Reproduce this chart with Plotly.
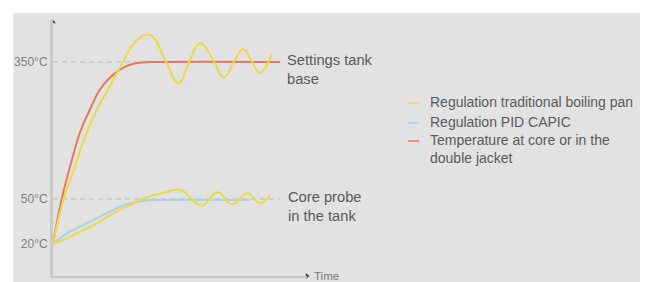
import plotly.graph_objects as go

# Schematic chart: x = time (arbitrary units), y = schematic temperature level
# (tick positions carry the °C labels)
tick_levels = [32, 77, 214]
tick_labels = ["20°C", "50°C", "350°C"]

# Upper curves (tank base)
red_x = [0, 9, 19, 27, 37, 47, 57, 67, 77, 89, 110, 229]
red_y = [32, 78, 116, 143, 166, 186, 198, 206, 211, 213.5, 214, 214]

yel_up_x = [0, 11, 21, 31, 44, 57, 70.7, 82, 97.3, 114, 126.3, 137.3, 148.3,
            162.3, 172.3, 182.3, 191.7, 200.7, 208.3, 220.7]
yel_up_y = [32, 78, 106, 136, 166, 189, 214.3, 233, 241, 214.3, 192.7, 214.3,
            232.7, 214.3, 198.7, 214.3, 226.7, 214.3, 203.3, 222.7]

# Lower curves (core probe)
yel_lo_x = [0, 14, 27.3, 44, 60.7, 77.3, 90, 109, 129, 142.3, 150.7, 165.7,
            180.7, 195.7, 209, 219]
yel_lo_y = [32, 37.7, 44.3, 52.7, 62.7, 71, 77, 82.7, 86, 74.3, 70.3, 83.7,
            71.7, 82.7, 72.7, 81]

blue_lo_x = [0, 14, 27.3, 44, 60.7, 77.3, 90, 110, 199]
blue_lo_y = [32, 42.7, 49.3, 57.7, 66, 72.7, 75, 76, 76]

setpoint_end = 229

legend_names = ["Regulation traditional boiling pan", "Regulation PID CAPIC",
                "Temperature at core or in the<br>double jacket"]

YEL = "#ecd94a"
BLUE = "#a9d2e2"
RED = "#e8775c"
BG = "#e1e2e1"
TXT = "#5a5a5a"
FONT = "Liberation Sans, Arial, sans-serif"
FS = 14.7
FS_LEG = 14

fig = go.Figure()

# dashed setpoint lines
for lv in [tick_levels[1], tick_levels[2]]:
    fig.add_shape(type="line", xref="x", yref="y", x0=0, x1=setpoint_end,
                  y0=lv, y1=lv, line=dict(color="#b9b9b9", width=1, dash="5px,4px"),
                  layer="below")

fig.add_trace(go.Scatter(x=blue_lo_x, y=blue_lo_y, mode="lines", name=legend_names[1],
                         line=dict(color=BLUE, width=2, shape="spline", smoothing=1.2),
                         showlegend=False))
fig.add_trace(go.Scatter(x=yel_lo_x, y=yel_lo_y, mode="lines", name=legend_names[0],
                         line=dict(color=YEL, width=2, shape="spline", smoothing=1.2),
                         showlegend=False))
fig.add_trace(go.Scatter(x=red_x, y=red_y, mode="lines", name=legend_names[2],
                         line=dict(color=RED, width=2, shape="spline", smoothing=1.2),
                         showlegend=False))
fig.add_trace(go.Scatter(x=yel_up_x, y=yel_up_y, mode="lines", name=legend_names[0],
                         line=dict(color=YEL, width=2, shape="spline", smoothing=1.3),
                         showlegend=False))

# axis arrow heads
fig.add_trace(go.Scatter(x=[0], y=[254], mode="markers", cliponaxis=False, showlegend=False,
                         marker=dict(symbol="triangle-up", size=5, color="#444")))
fig.add_trace(go.Scatter(x=[256], y=[0], mode="markers", cliponaxis=False, showlegend=False,
                         marker=dict(symbol="triangle-right", size=5, color="#444")))

# page body has an 8px margin: figure spans screen pixels 8..640 x 8..282
OFF = 8
FW, FH = 640 - OFF, 282 - OFF
# plot area in screen pixels: x 51..307, y 20..276
L, T, W, H = 51, 20, 256, 256
def px(x):
    return (x - L) / W
def py(y):
    return (T + H - y) / H

# white strips (outside the grey panel)
fig.add_shape(type="rect", xref="paper", yref="paper", x0=px(0), x1=px(660),
              y0=py(13), y1=py(0), fillcolor="white", line=dict(width=0))
fig.add_shape(type="rect", xref="paper", yref="paper", x0=px(0), x1=px(11),
              y0=py(290), y1=py(0), fillcolor="white", line=dict(width=0))

ann = []
ann.append(dict(text="Settings tank<br>base", x=px(285), y=py(69), xref="paper", yref="paper",
                xanchor="left", yanchor="middle", align="left", showarrow=False,
                font=dict(size=FS, color=TXT, family=FONT)))
ann.append(dict(text="Core probe<br>in the tank", x=px(286), y=py(206), xref="paper", yref="paper",
                xanchor="left", yanchor="middle", align="left", showarrow=False,
                font=dict(size=FS, color=TXT, family=FONT)))
ann.append(dict(text="Time", x=px(312), y=py(275.5), xref="paper", yref="paper",
                xanchor="left", yanchor="middle", showarrow=False,
                font=dict(size=11.5, color="#7a7a7a", family=FONT)))

leg_y = [102, 122, 149]
leg_line_y = [102, 122, 140]
leg_cols = [YEL, BLUE, RED]
for name, ty, ly, c in zip(legend_names, leg_y, leg_line_y, leg_cols):
    fig.add_shape(type="line", xref="paper", yref="paper", x0=px(409), x1=px(420),
                  y0=py(ly + 1), y1=py(ly + 1), line=dict(color=c, width=1.5))
    ann.append(dict(text=name, x=px(429), y=py(ty), xref="paper", yref="paper",
                    xanchor="left", yanchor="middle", align="left", showarrow=False,
                    font=dict(size=FS_LEG, color=TXT, family=FONT)))

fig.update_layout(
    width=FW, height=FH,
    margin=dict(l=L - OFF, r=FW - (L - OFF) - W, t=T - OFF, b=FH - (T - OFF) - H, pad=0),
    paper_bgcolor=BG, plot_bgcolor="rgba(0,0,0,0)",
    annotations=ann,
    showlegend=False,
    xaxis=dict(range=[0, 256], showgrid=False, zeroline=False, showticklabels=False,
               showline=True, linecolor="#c6c6c6", linewidth=2, ticks=""),
    yaxis=dict(range=[0, 256], showgrid=False, zeroline=False, showline=True,
               linecolor="#c9c9c9", linewidth=3, ticks="",
               tickvals=tick_levels, ticktext=tick_labels,
               tickfont=dict(size=12, color="#808080", family=FONT)),
)

fig.write_html("out.html")
